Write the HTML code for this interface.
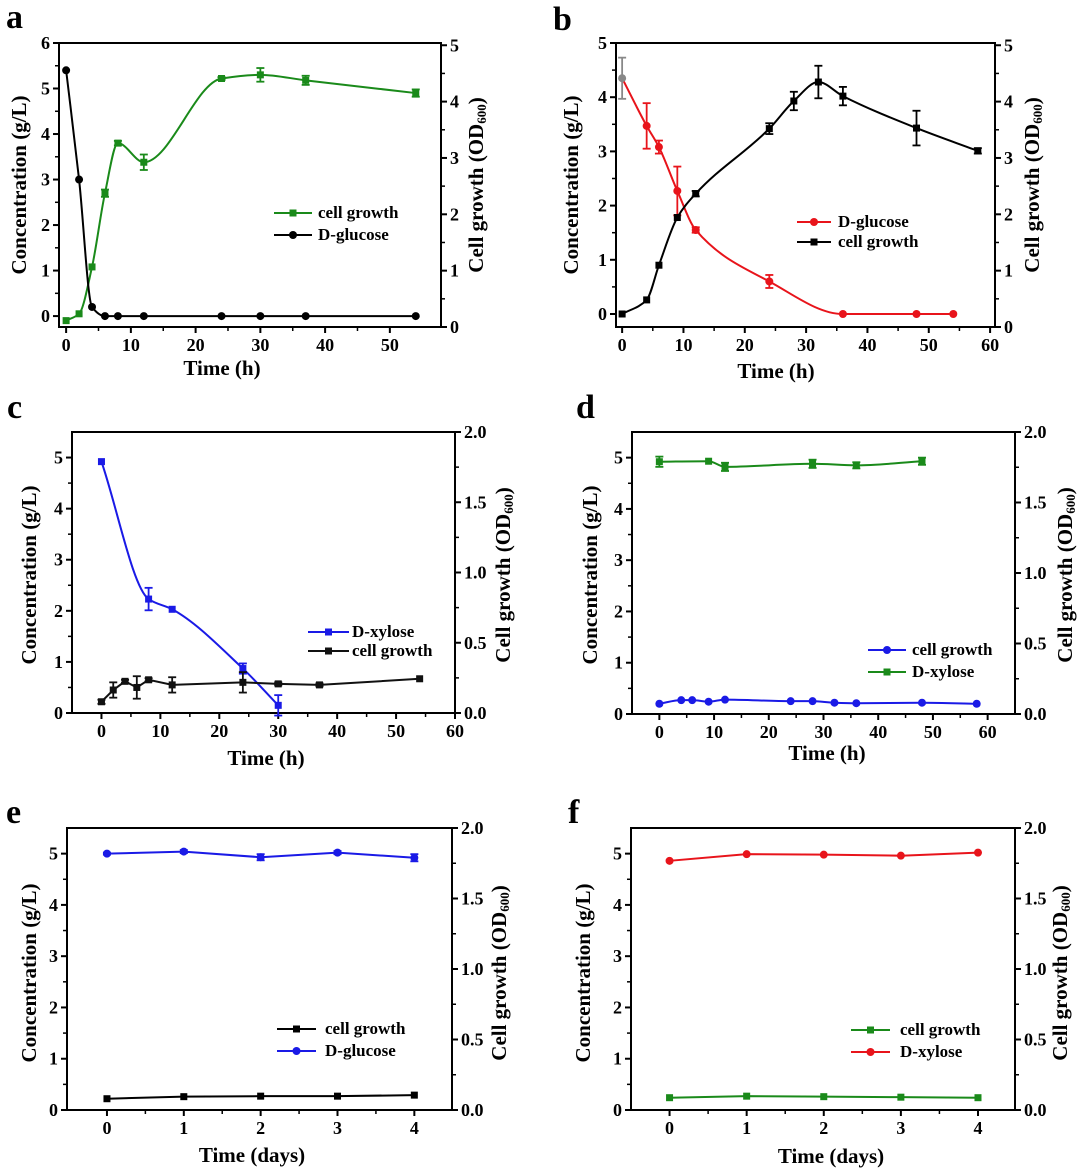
<!DOCTYPE html>
<html><head><meta charset="utf-8">
<style>
html,body{margin:0;padding:0;background:#fff;}
svg{display:block;font-family:"Liberation Serif",serif;font-weight:bold;}
</style></head>
<body>
<svg id="fig" width="1080" height="1169" viewBox="0 0 1080 1169" xmlns="http://www.w3.org/2000/svg"></svg>
<script>
// ---- data ----
const aTime=[0,2,4,6,8,12,24,30,37,54];
const aGlucose=[5.4,3.0,0.2,0,0,0,0,0,0,0];
const aCell=[-0.1,0.05,1.08,2.7,3.8,3.38,5.22,5.3,5.18,4.9];
const aCellErr=[0,0,0,0.08,0.05,0.17,0.03,0.15,0.1,0.08];

const bGluTime=[0,4,6,9,12,24,36,48,54];
const bGlucose=[4.35,3.47,3.08,2.27,1.55,0.6,0,0,0];
const bGluErr=[0.38,0.42,0.12,0.45,0.05,0.12,0,0,0];
const bCellTime=[0,4,6,9,12,24,28,32,36,48,58];
const bCell=[0,0.26,0.9,1.78,2.22,3.42,3.93,4.28,4.02,3.43,3.01];
const bCellErr=[0,0,0,0,0.05,0.1,0.17,0.3,0.17,0.32,0.05];

const cXylTime=[0,8,12,24,30];
const cXylose=[4.92,2.23,2.03,0.87,0.15];
const cXylErr=[0,0.22,0,0.1,0.2];
const cCellTime=[0,2,4,6,8,12,24,30,37,54];
const cCell=[0.22,0.45,0.62,0.5,0.65,0.55,0.6,0.57,0.55,0.67];
const cCellErr=[0.04,0.15,0.03,0.22,0.03,0.15,0.2,0.03,0.03,0];

const dXylTime=[0,9,12,28,36,48];
const dXylose=[4.92,4.93,4.82,4.88,4.85,4.93];
const dXylErr=[0.1,0,0.08,0.08,0.06,0.07];
const dCellTime=[0,4,6,9,12,24,28,32,36,48,58];
const dCell=[0.2,0.27,0.27,0.24,0.28,0.25,0.25,0.22,0.21,0.22,0.2];

const efDays=[0,1,2,3,4];
const eGlucose=[5.0,5.04,4.93,5.02,4.92];
const eGluErr=[0.02,0.03,0.06,0.03,0.07];
const eCell=[0.22,0.26,0.27,0.27,0.29];
const fXylose=[4.86,4.99,4.98,4.96,5.02];
const fCell=[0.24,0.27,0.26,0.25,0.24];

const xTicksH60=[0,10,20,30,40,50,60];
const xTicksH50=[0,10,20,30,40,50];
const xTicksDays=[0,1,2,3,4];
const yTicks6=[0,1,2,3,4,5,6];
const yTicks5=[0,1,2,3,4,5];
const rTicks5=[0,1,2,3,4,5];
const rTicks2=["0.0","0.5","1.0","1.5","2.0"];

// ---- drawing ----
const NS="http://www.w3.org/2000/svg";
const svg=document.getElementById('fig');
function el(tag,attrs,parent){const e=document.createElementNS(NS,tag);for(const k in attrs)e.setAttribute(k,attrs[k]);(parent||svg).appendChild(e);return e;}

// monotone cubic (Fritsch-Carlson) in pixel space
function smoothPath(pts){
  const n=pts.length;if(n<2)return '';
  const dx=[],dy=[],m=[];
  for(let i=0;i<n-1;i++){dx.push(pts[i+1][0]-pts[i][0]);dy.push(pts[i+1][1]-pts[i][1]);m.push(dy[i]/dx[i]);}
  const t=new Array(n);
  t[0]=m[0];t[n-1]=m[n-2];
  for(let i=1;i<n-1;i++){
    if(m[i-1]*m[i]<=0)t[i]=0;
    else{const w1=2*dx[i]+dx[i-1],w2=dx[i]+2*dx[i-1];t[i]=(w1+w2)/(w1/m[i-1]+w2/m[i]);}
  }
  let d='M'+pts[0][0]+','+pts[0][1];
  for(let i=0;i<n-1;i++){
    const h=dx[i]/3;
    d+=' C'+(pts[i][0]+h)+','+(pts[i][1]+t[i]*h)+' '+(pts[i+1][0]-h)+','+(pts[i+1][1]-t[i+1]*h)+' '+pts[i+1][0]+','+pts[i+1][1];
  }
  return d;
}

function panel(cfg){
  const g=el('g',{});
  
  
  const b=cfg.box;
  const sx=v=>b.x0+(v-cfg.xd[0])/(cfg.xd[1]-cfg.xd[0])*(b.x1-b.x0);
  const sy=v=>b.y1-(v-cfg.yd[0])/(cfg.yd[1]-cfg.yd[0])*(b.y1-b.y0);
  const sr=v=>b.y1-(v-cfg.rd[0])/(cfg.rd[1]-cfg.rd[0])*(b.y1-b.y0);
  const L=el('text',{x:cfg.letter[0],y:cfg.letter[1],'font-size':34},g);L.textContent=cfg.id;
  
  const fr=el('rect',{x:b.x0,y:b.y0,width:b.x1-b.x0,height:b.y1-b.y0,fill:'none',stroke:'#000','stroke-width':2},g);
  
  const xa=el('g',{},g);
  cfg.xt.forEach(v=>{const x=sx(v);el('line',{x1:x,x2:x,y1:b.y1,y2:b.y1+6,stroke:'#000','stroke-width':2},xa);
    const t=el('text',{x:x,y:b.y1+24,'font-size':18,'text-anchor':'middle'},xa);t.textContent=v;});
  cfg.xt.forEach((v,i)=>{if(i<cfg.xt.length-1){const m=(v+cfg.xt[i+1])/2;const x=sx(m);el('line',{x1:x,x2:x,y1:b.y1,y2:b.y1+4,stroke:'#000','stroke-width':1.5},xa);}});
  const ya=el('g',{},g);
  cfg.yt.forEach((v,i)=>{const y=sy(v);el('line',{x1:b.x0-6,x2:b.x0,y1:y,y2:y,stroke:'#000','stroke-width':2},ya);
    const t=el('text',{x:b.x0-9,y:y+6,'font-size':18,'text-anchor':'end'},ya);t.textContent=v;
    const m=v+0.5;if(sy(m)>b.y0){el('line',{x1:b.x0-4,x2:b.x0,y1:sy(m),y2:sy(m),stroke:'#000','stroke-width':1.5},ya);}});
  const ra=el('g',{},g);
  cfg.rt.forEach((lab,i)=>{const v=parseFloat(lab);const y=sr(v);el('line',{x1:b.x1,x2:b.x1+6,y1:y,y2:y,stroke:'#000','stroke-width':2},ra);
    const t=el('text',{x:b.x1+9,y:y+6,'font-size':18},ra);t.textContent=lab;
    if(i<cfg.rt.length-1){const m=(v+parseFloat(cfg.rt[i+1]))/2;el('line',{x1:b.x1,x2:b.x1+4,y1:sr(m),y2:sr(m),stroke:'#000','stroke-width':1.5},ra);}});
  const lt=el('text',{transform:`translate(${cfg.lt[0]},${cfg.lt[1]}) rotate(-90)`,'font-size':21,'text-anchor':'middle','dominant-baseline':'middle'},g);
  lt.textContent='Concentration (g/L)';
  const rtt=el('text',{transform:`translate(${cfg.rtt[0]},${cfg.rtt[1]}) rotate(-90)`,'font-size':21,'text-anchor':'middle','dominant-baseline':'middle'},g);
  
  const t1=el('tspan',{},rtt);t1.textContent='Cell growth (OD';
  const t2=el('tspan',{'font-size':13,dy:5},rtt);t2.textContent='600';
  const t3=el('tspan',{dy:-5},rtt);t3.textContent=')';
  const xt=el('text',{x:cfg.xtt[0],y:cfg.xtt[1],'font-size':21,'text-anchor':'middle'},g);
  xt.textContent=cfg.xlabel;
  cfg.series.forEach((s,si)=>{
    const sg=el('g',{},g);
    
    
    const pts=s.x.map((v,i)=>[sx(v),sy(s.y[i])]);
    const d=s.smooth?smoothPath(pts):'M'+pts.map(p=>p[0]+','+p[1]).join(' L');
    el('path',{d:d,fill:'none',stroke:s.color,'stroke-width':2},sg);
    s.x.forEach((v,i)=>{
      const cx=sx(v),cy=sy(s.y[i]);const c=(s.first&&i===0)?s.first:s.color;
      if(s.err&&s.err[i]>0){const y1=sy(s.y[i]+s.err[i]),y2=sy(s.y[i]-s.err[i]);
        el('line',{x1:cx,x2:cx,y1:y1,y2:y2,stroke:c,'stroke-width':1.8},sg);
        el('line',{x1:cx-4,x2:cx+4,y1:y1,y2:y1,stroke:c,'stroke-width':1.8},sg);
        el('line',{x1:cx-4,x2:cx+4,y1:y2,y2:y2,stroke:c,'stroke-width':1.8},sg);}
      let m;
      if(s.marker==='sq')m=el('rect',{x:cx-3.5,y:cy-3.5,width:7,height:7,fill:c},sg);
      else m=el('circle',{cx:cx,cy:cy,r:4,fill:c},sg);
      
    });
    const lg=el('g',{},g);
    const ly=cfg.legend.y[si];
    el('line',{x1:cfg.legend.x0,x2:cfg.legend.x1,y1:ly,y2:ly,stroke:s.color,'stroke-width':2},lg);
    const mx=(cfg.legend.x0+cfg.legend.x1)/2;
    if(s.marker==='sq')el('rect',{x:mx-3.5,y:ly-3.5,width:7,height:7,fill:s.color},lg);
    else el('circle',{cx:mx,cy:ly,r:4,fill:s.color},lg);
    const lt2=el('text',{x:cfg.legend.tx,y:ly+5,'font-size':17},lg);lt2.textContent=s.name;
  });
}

panel({id:'a',letter:[6,28],box:{x0:59,x1:441,y0:43,y1:327},xd:[-1.1,57.9],yd:[-0.24,6],rd:[0,5.04],
  xt:xTicksH50,yt:yTicks6,rt:rTicks5.map(String),lt:[21,185],rtt:[478,185],xtt:[222,375],xlabel:'Time (h)',
  legend:{x0:274,x1:312,tx:318,y:[213,235]},
  series:[{name:'cell growth',x:aTime,y:aCell,err:aCellErr,color:'#1a8a1a',marker:'sq',smooth:true},
          {name:'D-glucose',x:aTime,y:aGlucose,color:'#000',marker:'ci',smooth:true}]});

panel({id:'b',letter:[553,30],box:{x0:616,x1:995,y0:43,y1:327},xd:[-1,60.8],yd:[-0.24,5],rd:[0,5.04],
  xt:xTicksH60,yt:yTicks5,rt:rTicks5.map(String),lt:[573,185],rtt:[1034,185],xtt:[776,378],xlabel:'Time (h)',
  legend:{x0:797,x1:831,tx:838,y:[222,242]},
  series:[{name:'D-glucose',x:bGluTime,y:bGlucose,err:bGluErr,color:'#e8141b',first:'#888',marker:'ci',smooth:true},
          {name:'cell growth',x:bCellTime,y:bCell,err:bCellErr,color:'#000',marker:'sq',smooth:true}]});

panel({id:'c',letter:[7,418],box:{x0:72,x1:455,y0:432,y1:713},xd:[-5,60],yd:[0,5.5],rd:[0,2],
  xt:xTicksH60,yt:yTicks5,rt:rTicks2,lt:[31,575],rtt:[505,575],xtt:[266,765],xlabel:'Time (h)',
  legend:{x0:308,x1:349,tx:352,y:[632,651]},
  series:[{name:'D-xylose',x:cXylTime,y:cXylose,err:cXylErr,color:'#1a1ae6',marker:'sq',smooth:true},
          {name:'cell growth',x:cCellTime,y:cCell,err:cCellErr,color:'#111',marker:'sq',smooth:false}]});

panel({id:'d',letter:[576,418],box:{x0:632,x1:1015,y0:432,y1:714},xd:[-5,65],yd:[0,5.5],rd:[0,2],
  xt:xTicksH60,yt:yTicks5,rt:rTicks2,lt:[592,575],rtt:[1067,575],xtt:[827,760],xlabel:'Time (h)',
  legend:{x0:868,x1:906,tx:912,y:[650,672]},
  series:[{name:'cell growth',x:dCellTime,y:dCell,color:'#1a1ae6',marker:'ci',smooth:true},
          {name:'D-xylose',x:dXylTime,y:dXylose,err:dXylErr,color:'#1a8a1a',marker:'sq',smooth:true}]});

panel({id:'e',letter:[6,823],box:{x0:67,x1:452,y0:828,y1:1110},xd:[-0.52,4.49],yd:[0,5.5],rd:[0,2],
  xt:xTicksDays,yt:yTicks5,rt:rTicks2,lt:[31,973],rtt:[501,973],xtt:[252,1162],xlabel:'Time (days)',
  legend:{x0:277,x1:316,tx:325,y:[1029,1051]},
  series:[{name:'cell growth',x:efDays,y:eCell,color:'#000',marker:'sq',smooth:false},
          {name:'D-glucose',x:efDays,y:eGlucose,err:eGluErr,color:'#1a1ae6',marker:'ci',smooth:false}]});

panel({id:'f',letter:[568,823],box:{x0:631,x1:1015,y0:828,y1:1110},xd:[-0.5,4.48],yd:[0,5.5],rd:[0,2],
  xt:xTicksDays,yt:yTicks5,rt:rTicks2,lt:[585,973],rtt:[1062,973],xtt:[831,1163],xlabel:'Time (days)',
  legend:{x0:851,x1:890,tx:900,y:[1030,1052]},
  series:[{name:'cell growth',x:efDays,y:fCell,color:'#1a8a1a',marker:'sq',smooth:false},
          {name:'D-xylose',x:efDays,y:fXylose,color:'#e8141b',marker:'ci',smooth:false}]});
</script>
</body></html>
